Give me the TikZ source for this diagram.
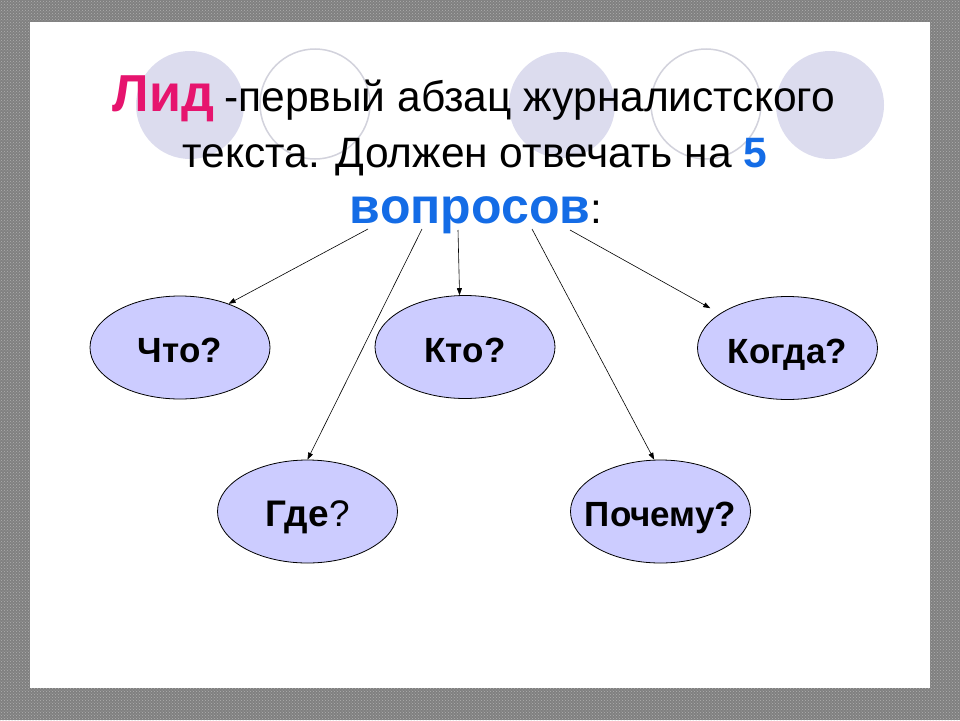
\documentclass[tikz,border=0pt]{standalone}
\usepackage{fontspec}
\setmainfont{Liberation Sans}
\usetikzlibrary{arrows.meta,shapes.geometric,patterns}
\definecolor{framegray}{RGB}{128,128,128}
\definecolor{framelight}{RGB}{175,175,175}
\definecolor{lav}{RGB}{220,220,238}
\definecolor{ringgray}{RGB}{210,210,220}
\definecolor{qfill}{RGB}{204,204,255}
\definecolor{lidpink}{RGB}{230,20,110}
\definecolor{qblue}{RGB}{20,108,230}
\newcommand\qlabel[1]{\makebox[0pt]{#1}}
\begin{document}
\begin{tikzpicture}[x=1pt,y=-1pt,
  qnode/.style={ellipse, draw=black, line width=0.8pt, fill=qfill,
    minimum width=180pt, minimum height=103pt, inner sep=0pt,
    text height=30pt, text depth=0pt,
    font=\fontsize{35}{40}\selectfont\bfseries},
  conn/.style={-{Triangle[length=7pt,width=5pt]}, line width=0.6pt},
  titletext/.style={anchor=base, inner sep=0pt}]
\useasboundingbox (0,0) rectangle (960,720);
\fill[framegray] (0,0) rectangle (960,720);
\fill[pattern=crosshatch dots, pattern color=framelight] (0,0) rectangle (960,720);
\fill[white] (30,22) rectangle (930,688);
% decorative circles
\fill[lav] (190,105) circle [radius=54pt];
\fill[lav] (562,105) circle [radius=53pt];
\fill[lav] (830,105) circle [radius=54pt];
\draw[ringgray, line width=1.5pt] (315,104) circle [radius=55pt];
\draw[ringgray, line width=1.5pt] (706,104) circle [radius=55pt];
% title
\node[titletext] (t1) at (474,111) {{\fontsize{52}{56}\selectfont\bfseries\color{lidpink}Лид}\hspace{10pt}{\fontsize{42.5}{50}\selectfont -первый абзац журналистского}};
\node[titletext] (t2) at (475,167) {\fontsize{42.5}{50}\selectfont текста. Должен отвечать на {\bfseries\color{qblue}5}};
\node[titletext] (t3) at (476,223) {{\fontsize{50}{56}\selectfont\bfseries\color{qblue}вопросов}{\fontsize{42.5}{50}\selectfont :}};
% arrow starts
\coordinate (s1) at (368,229);
\coordinate (s2) at (422,229);
\coordinate (s3) at (458,230);
\coordinate (s4) at (532,229);
\coordinate (s5) at (570,230);
% questions
\node[qnode] (chto) at (180,347.5) {\qlabel{Что?}};
\node[qnode] (kto) at (465,347) {\qlabel{Кто?}};
\node[qnode] (kogda) at (787.5,348) {\qlabel{Когда?}};
\node[qnode] (gde) at (307.5,511.5) {\qlabel{\fontsize{37}{40}\selectfont\bfseries Где\mdseries ?}};
\node[qnode] (poch) at (660.5,511.5) {\qlabel{Почему?}};
% connectors
\draw[conn] (s1) -- (chto.42);
\draw[conn] (s2) -- (gde.north);
\draw[conn] (s3) -- (kto.96);
\draw[conn] (s4) -- (poch.97);
\draw[conn, shorten >=11pt] (s5) -- (kogda.153);
\end{tikzpicture}
\end{document}
